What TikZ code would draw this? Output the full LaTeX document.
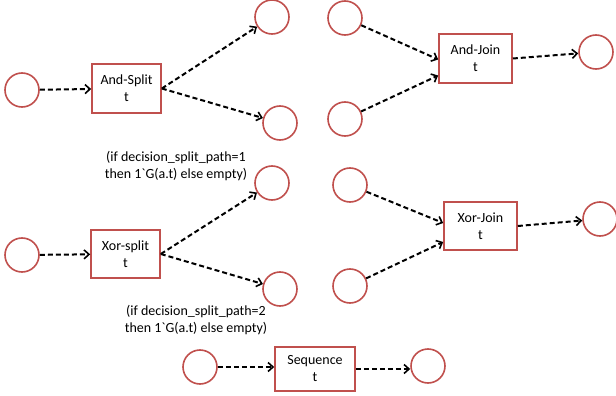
\documentclass[tikz,border=0pt]{standalone}
\usepackage{fontspec}
\newfontfamily\calfont{Carlito}
\usetikzlibrary{arrows.meta,calc}
\definecolor{placered}{HTML}{C0504D}
\tikzset{
  place/.style={circle,draw=placered,line width=1.6pt,minimum size=34pt,inner sep=0pt},
  trans/.style={rectangle,draw=placered,line width=1.6pt,inner sep=0pt,align=center,
    font=\calfont\fontsize{14}{17}\selectfont},
  lbl/.style={align=center,font=\calfont\fontsize{14}{17}\selectfont,inner sep=0pt},
  arc/.style={line width=2pt,dash pattern=on 5pt off 3pt,-{Straight Barb[length=5pt,width=9pt,line width=1.6pt]}}
}
\begin{document}
\begin{tikzpicture}[x=1pt,y=-1pt]
\useasboundingbox (0,0) rectangle (616,396);
% And-Split
\node[place] (as_in) at (22,90) {};
\node[trans,minimum width=69pt,minimum height=49pt] (as) at (126.5,88.5) {And-Split\\t};
\node[place] (as_o1) at (272,17) {};
\node[place] (as_o2) at (280,123) {};
\draw[arc] (as_in) -- (as);
\draw[arc] (as.east) -- (as_o1);
\draw[arc] (as.east) -- (as_o2);
% And-Join
\node[place] (aj_i1) at (345,18) {};
\node[place] (aj_i2) at (345,119) {};
\node[trans,minimum width=73pt,minimum height=49pt] (aj) at (475.5,58.5) {And-Join\\t};
\node[place] (aj_out) at (596,52) {};
\draw[arc] (aj_i1) -- ([yshift=-1pt]aj.west);
\draw[arc] (aj_i2) -- ([yshift=-17pt]aj.west);
\draw[arc] (aj.east) -- (aj_out);
% Xor-split
\node[place] (xs_in) at (22,255) {};
\node[trans,minimum width=69pt,minimum height=48pt] (xs) at (125.5,254) {Xor-split\\t};
\node[place] (xs_o1) at (272,183) {};
\node[place] (xs_o2) at (280,289) {};
\draw[arc] (xs_in) -- (xs);
\draw[arc] (xs.east) -- (xs_o1);
\draw[arc] (xs.east) -- (xs_o2);
\node[lbl] (l1) at (176,166) {(if decision\_split\_path=1\\then 1\symbol{96}G(a.t) else empty)};
\node[lbl] (l2) at (196,320) {(if decision\_split\_path=2\\then 1\symbol{96}G(a.t) else empty)};
% Xor-Join
\node[place] (xj_i1) at (350,185) {};
\node[place] (xj_i2) at (350,286) {};
\node[trans,minimum width=73pt,minimum height=48pt] (xj) at (480.5,226) {Xor-Join\\t};
\node[place] (xj_out) at (600,219) {};
\draw[arc] (xj_i1) -- ([yshift=3pt]xj.west);
\draw[arc] (xj_i2) -- ([yshift=-16pt]xj.west);
\draw[arc] (xj.east) -- (xj_out);
% Sequence
\node[place] (sq_in) at (200,367) {};
\node[trans,minimum width=80pt,minimum height=44pt] (sq) at (315,369) {Sequence\\t};
\node[place] (sq_out) at (428,366) {};
\draw[arc] (sq_in) -- (sq_in -| sq.west);
\draw[arc] (sq.east) -- (sq.east -| sq_out.west);
\end{tikzpicture}
\end{document}
